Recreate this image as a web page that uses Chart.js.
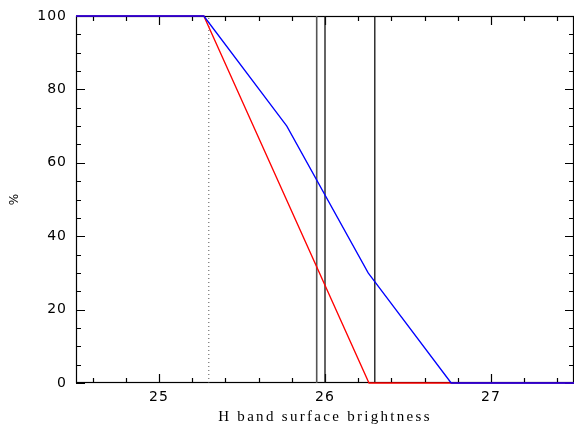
<!DOCTYPE html>
<html>
<head>
<meta charset="utf-8">
<script src="https://cdn.jsdelivr.net/npm/chart.js@4"></script>
<style>
  html, body { margin: 0; padding: 0; background: #fff; }
  #wrap { width: 574px; height: 425px; }
</style>
</head>
<body>
<div id="wrap"><canvas id="chart" width="574" height="425"></canvas></div>
<script>
// completeness curves vs surface brightness
const blueX = [24.5, 25.27, 25.77, 26.26, 26.76, 27.5];
const blueY = [100, 100, 70, 30, 0, 0];
const redX = [24.5, 25.27, 26.265, 27.5];
const redY = [100, 100, 0, 0];

// vertical markers
const solidX = [25.95, 26.0, 26.3];
const dottedX = 25.3;

// axes
const xMin = 24.5, xMax = 27.5;
const yMin = 0, yMax = 100;
const xTickLabels = [25, 26, 27];
const yTickLabels = [0, 20, 40, 60, 80, 100];
const xMinorStep = 0.2;
const yMinorStep = 5;
const xTitle = "H band surface brightness";
const yTitle = "%";

const pts = (xs, ys) => xs.map((x, i) => ({ x: x, y: ys[i] }));

const datasets = [
  { data: pts(blueX, blueY), borderColor: "#0000ff", borderWidth: 1.3, order: 0, clip: 4 },
  { data: pts(redX, redY), borderColor: "#ff0000", borderWidth: 1.3, order: 1, clip: 4 }
];
solidX.forEach((x, i) => {
  datasets.push({
    data: [{ x: x, y: yMin }, { x: x, y: yMax }],
    borderColor: i === 0 ? "#555" : "#111",
    borderWidth: i === 0 ? 1.6 : 1.3,
    order: 2
  });
});
datasets.push({
  data: [{ x: dottedX, y: yMin }, { x: dottedX, y: yMax }],
  borderColor: "#555",
  borderWidth: 1,
  borderDash: [1, 3],
  order: 2
});

// frame, inward ticks and labels drawn off the chart's scales, under the curves
const framePlugin = {
  id: "frame",
  beforeDatasetsDraw(chart) {
    const ctx = chart.ctx;
    const a = chart.chartArea;
    const xs = chart.scales.x, ys = chart.scales.y;
    ctx.save();
    ctx.strokeStyle = "#000";
    ctx.lineWidth = 1.2;
    ctx.strokeRect(a.left + 0.5, a.top + 0.5, a.right - a.left - 1, a.bottom - a.top - 1);

    const isMajor = (v, list) => list.some(t => Math.abs(t - v) < 1e-6);
    ctx.beginPath();
    const nx = Math.round((xMax - xMin) / xMinorStep);
    for (let i = 0; i <= nx; i++) {
      const v = xMin + 0.1 + i * xMinorStep;
      if (v > xMax) break;
      const px = Math.round(xs.getPixelForValue(v)) + 0.5;
      const len = isMajor(v, xTickLabels) ? 9 : 5;
      ctx.moveTo(px, a.bottom); ctx.lineTo(px, a.bottom - len);
      ctx.moveTo(px, a.top); ctx.lineTo(px, a.top + len);
    }
    for (let v = yMin; v <= yMax + 1e-6; v += yMinorStep) {
      const py = Math.round(ys.getPixelForValue(v)) + 0.5;
      const len = isMajor(v, yTickLabels) ? 9 : 5;
      ctx.moveTo(a.left, py); ctx.lineTo(a.left + len, py);
      ctx.moveTo(a.right, py); ctx.lineTo(a.right - len, py);
    }
    ctx.stroke();

    ctx.fillStyle = "#000";
    ctx.font = "14px 'DejaVu Sans'";
    ctx.letterSpacing = "1px";
    ctx.textBaseline = "middle";
    ctx.textAlign = "center";
    xTickLabels.forEach(v => ctx.fillText(String(v), xs.getPixelForValue(v), 397));
    ctx.textAlign = "right";
    yTickLabels.forEach(v => ctx.fillText(String(v), a.left - 9, ys.getPixelForValue(v)));

    ctx.font = "15px 'Liberation Serif'";
    ctx.letterSpacing = "2.3px";
    ctx.textAlign = "center";
    ctx.fillText(xTitle, (a.left + a.right) / 2, 417);

    ctx.letterSpacing = "0px";
    ctx.font = "12px 'DejaVu Sans'";
    ctx.translate(15, (a.top + a.bottom) / 2);
    ctx.rotate(-Math.PI / 2);
    ctx.fillText(yTitle, 0, 0);
    ctx.restore();
  }
};

new Chart(document.getElementById("chart"), {
  type: "line",
  data: { datasets: datasets },
  options: {
    responsive: false,
    animation: false,
    events: [],
    layout: { padding: { left: 76, top: 16, right: 0, bottom: 42 } },
    elements: { point: { radius: 0 }, line: { tension: 0 } },
    plugins: { legend: { display: false }, tooltip: { enabled: false } },
    scales: {
      x: { type: "linear", min: xMin, max: xMax, display: false },
      y: { type: "linear", min: yMin, max: yMax, display: false }
    }
  },
  plugins: [framePlugin]
});
</script>
</body>
</html>
